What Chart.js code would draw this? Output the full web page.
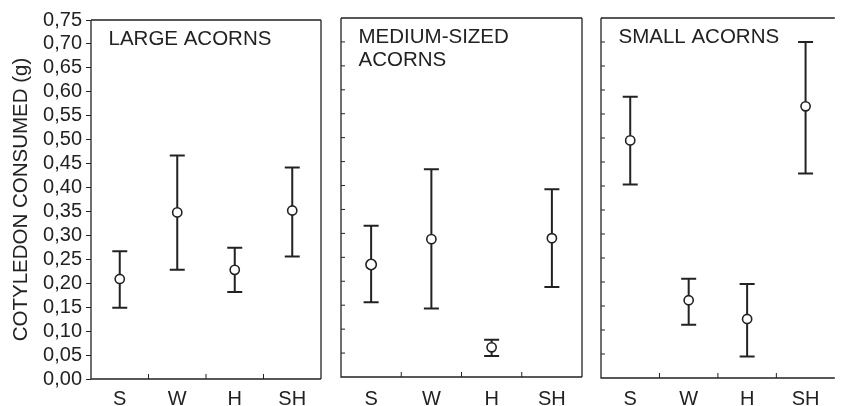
<!DOCTYPE html>
<html>
<head>
<meta charset="utf-8">
<script src="https://cdn.jsdelivr.net/npm/chart.js@4/dist/chart.umd.min.js"></script>
<style>
  html, body { margin: 0; padding: 0; background: #fff; }
  #wrap { position: relative; width: 841px; height: 406px; overflow: hidden; background: #fff; }
  #wrap canvas { position: absolute; left: 0; top: 0; }
</style>
</head>
<body>
<div id="wrap">
  <canvas id="large" width="841" height="406"></canvas>
  <canvas id="medium" width="841" height="406"></canvas>
  <canvas id="small" width="841" height="406"></canvas>
</div>
<script>
// Treatments on the x axis
const treatments = ['S', 'W', 'H', 'SH'];

// Y axis tick labels (decimal comma)
const yTickLabels = ['0,00', '0,05', '0,10', '0,15', '0,20', '0,25', '0,30', '0,35',
                     '0,40', '0,45', '0,50', '0,55', '0,60', '0,65', '0,70', '0,75'];

// Large acorns: mean and interval limits (g)
const largeMean = [0.209, 0.348, 0.228, 0.352];
const largeLow  = [0.149, 0.228, 0.182, 0.256];
const largeHigh = [0.267, 0.467, 0.274, 0.442];

// Medium-sized acorns
const mediumMean = [0.235, 0.288, 0.062, 0.290];
const mediumLow  = [0.156, 0.143, 0.044, 0.188];
const mediumHigh = [0.316, 0.434, 0.078, 0.392];

// Small acorns
const smallMean = [0.495, 0.162, 0.123, 0.566];
const smallLow  = [0.403, 0.111, 0.045, 0.426];
const smallHigh = [0.586, 0.207, 0.196, 0.700];

const INK = '#222';
const FONT = '"Liberation Sans", Arial, Helvetica, sans-serif';

// Whiskers, frame, inner ticks and panel caption
const panelDecor = {
  id: 'panelDecor',
  beforeDatasetsDraw(chart, args, opts) {
    const { ctx, scales: { x, y } } = chart;
    ctx.save();
    ctx.strokeStyle = INK;
    ctx.lineWidth = 2;
    opts.low.forEach((lo, i) => {
      const px = x.getPixelForValue(i);
      const y1 = y.getPixelForValue(lo);
      const y2 = y.getPixelForValue(opts.high[i]);
      ctx.beginPath();
      ctx.moveTo(px, y1); ctx.lineTo(px, y2);
      ctx.moveTo(px - 7.5, y1); ctx.lineTo(px + 7.5, y1);
      ctx.moveTo(px - 7.5, y2); ctx.lineTo(px + 7.5, y2);
      ctx.stroke();
    });
    ctx.restore();
  },
  afterDraw(chart, args, opts) {
    const { ctx, chartArea: a, scales: { x, y } } = chart;
    ctx.save();
    ctx.strokeStyle = INK;
    ctx.lineWidth = 1.3;
    ctx.beginPath();
    ctx.moveTo(a.left, a.top); ctx.lineTo(a.left, a.bottom); ctx.lineTo(a.right, a.bottom);
    ctx.moveTo(a.left, a.top); ctx.lineTo(a.right, a.top);
    if (opts.rightEdge) { ctx.moveTo(a.right, a.top); ctx.lineTo(a.right, a.bottom); }
    ctx.stroke();

    // inward tick marks between treatments
    ctx.lineWidth = 1;
    ctx.beginPath();
    for (let i = 1; i < treatments.length; i++) {
      const px = (x.getPixelForValue(i - 1) + x.getPixelForValue(i)) / 2;
      ctx.moveTo(px, a.bottom); ctx.lineTo(px, a.bottom - 5);
    }
    if (opts.innerYTicks) {
      y.ticks.forEach(t => {
        const py = y.getPixelForValue(t.value);
        if (py > a.top + 1 && py < a.bottom - 1) {
          ctx.moveTo(a.left, py); ctx.lineTo(a.left + 4, py);
        }
      });
    }
    ctx.stroke();

    // caption
    ctx.fillStyle = INK;
    ctx.font = '20.5px ' + FONT;
    ctx.textAlign = 'left';
    ctx.textBaseline = 'alphabetic';
    opts.caption.forEach((line, i) => {
      ctx.fillText(line, a.left + 17.5, a.top + 25 + i * 22.7);
    });
    ctx.restore();
  }
};

function makePanel(id, mean, low, high, caption, box) {
  const yTickValues = yTickLabels.map(s => parseFloat(s.replace(',', '.')));
  const radius = c => (c.dataIndex === box.largeMarker ? 5.2 : 4.6);
  return new Chart(document.getElementById(id), {
    type: 'line',
    data: {
      labels: treatments,
      datasets: [{
        data: mean,
        showLine: false,
        pointRadius: radius,
        pointHoverRadius: radius,
        pointBackgroundColor: '#fff',
        pointBorderColor: INK,
        pointBorderWidth: 1.6
      }]
    },
    options: {
      responsive: false,
      animation: false,
      events: [],
      layout: { padding: { left: box.left, right: box.right, top: box.top, bottom: 0 } },
      plugins: {
        legend: { display: false },
        tooltip: { enabled: false },
        panelDecor: { low: low, high: high, caption: caption,
                      rightEdge: box.rightEdge, innerYTicks: !box.yLabels }
      },
      scales: {
        x: {
          type: 'category',
          offset: true,
          border: { display: false },
          grid: { display: false, drawTicks: false },
          ticks: { color: INK, font: { family: FONT, size: 20 }, padding: box.labelPad, maxRotation: 0 },
          afterFit: s => { s.height = 406 - box.bottom; }
        },
        y: {
          display: box.yLabels,
          min: 0,
          max: 0.75,
          afterBuildTicks: s => { s.ticks = yTickValues.map(v => ({ value: v })); },
          border: { display: false },
          grid: { display: true, drawOnChartArea: false, drawTicks: true, tickLength: 5,
                  color: INK, tickColor: INK, lineWidth: 1 },
          ticks: {
            autoSkip: false,
            color: INK, font: { family: FONT, size: 20 }, padding: 4,
            callback: (v, i) => yTickLabels[i]
          },
          title: {
            display: box.yLabels,
            text: 'COTYLEDON CONSUMED (g)',
            color: INK,
            font: { family: FONT, size: 20.5 },
            padding: { top: 9, bottom: 0 }
          },
          afterFit: s => { if (box.yLabels) s.width = box.axisWidth; }
        }
      }
    },
    plugins: [panelDecor]
  });
}

makePanel('large', largeMean, largeLow, largeHigh, ['LARGE ACORNS'],
  { left: 0, right: 520, top: 20, bottom: 379, labelPad: 8, yLabels: true, axisWidth: 91, rightEdge: true, largeMarker: -1 });
makePanel('medium', mediumMean, mediumLow, mediumHigh, ['MEDIUM-SIZED', 'ACORNS'],
  { left: 341, right: 259, top: 18, bottom: 377, labelPad: 10, yLabels: false, rightEdge: true, largeMarker: 0 });
makePanel('small', smallMean, smallLow, smallHigh, ['SMALL ACORNS'],
  { left: 601, right: 0, top: 18, bottom: 378, labelPad: 9, yLabels: false, rightEdge: false, largeMarker: -1 });
</script>
</body>
</html>
